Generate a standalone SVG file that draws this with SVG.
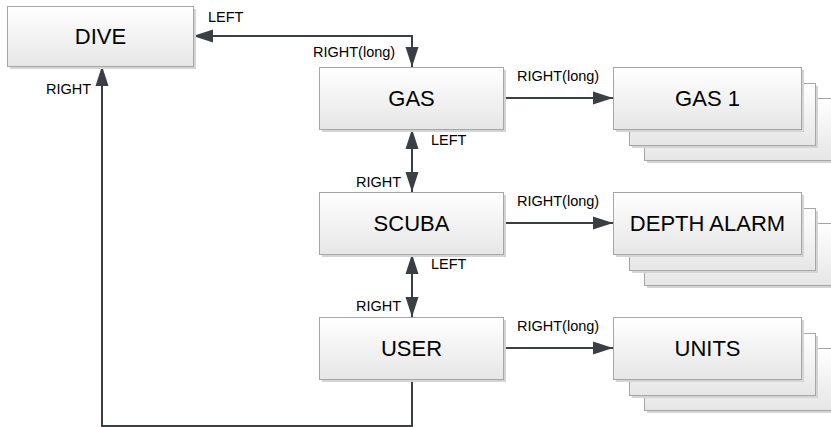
<svg xmlns="http://www.w3.org/2000/svg" width="831" height="427" viewBox="0 0 831 427">
<style>
.box{fill:url(#g);stroke:#a6a6a6;stroke-width:1}
.sh{fill:#d4d4d4}
.bt{font-family:"Liberation Sans",Arial,sans-serif;font-size:22px;fill:#000;text-anchor:middle}
.lb{font-family:"Liberation Sans",Arial,sans-serif;font-size:14.5px;fill:#000}
.c{fill:none;stroke:#3b3e42;stroke-width:2}
</style>
<defs>
<linearGradient id="g" x1="0" y1="0" x2="0" y2="1">
<stop offset="0" stop-color="#ffffff"/>
<stop offset="1" stop-color="#e6e6e6"/>
</linearGradient>
<marker id="a" markerUnits="userSpaceOnUse" markerWidth="21" markerHeight="14" refX="20" refY="7" orient="auto-start-reverse" viewBox="0 0 21 14">
<path d="M0,0.5 L20,7 L0,13.5 z" fill="#3b3e42"/>
</marker>
</defs>
<rect width="831" height="427" fill="#fff"/>
<g id="connectors">
<path class="c" d="M193,36 H412 V67" marker-start="url(#a)" marker-end="url(#a)"/>
<path class="c" d="M412,129 V192" marker-start="url(#a)" marker-end="url(#a)"/>
<path class="c" d="M412,254 V317" marker-start="url(#a)" marker-end="url(#a)"/>
<path class="c" d="M503,98 H613" marker-end="url(#a)"/>
<path class="c" d="M503,223 H613" marker-end="url(#a)"/>
<path class="c" d="M503,348 H613" marker-end="url(#a)"/>
<path class="c" d="M412,379 V426 H102 V66" marker-end="url(#a)"/>
<text class="lb" x="208" y="22">LEFT</text>
<text class="lb" x="313" y="57">RIGHT(long)</text>
<text class="lb" x="46" y="94">RIGHT</text>
<text class="lb" x="431" y="145">LEFT</text>
<text class="lb" x="356" y="187">RIGHT</text>
<text class="lb" x="431" y="269">LEFT</text>
<text class="lb" x="356" y="311">RIGHT</text>
<text class="lb" x="517" y="81">RIGHT(long)</text>
<text class="lb" x="517" y="206">RIGHT(long)</text>
<text class="lb" x="517" y="331">RIGHT(long)</text>
</g>
<g id="dive">
<rect class="sh" x="10" y="9" width="186" height="60"/>
<rect class="box" x="7.5" y="6.5" width="186" height="60"/>
<text class="bt" x="100.5" y="44">DIVE</text>
</g>
<g id="gas">
<rect class="sh" x="322" y="70" width="184" height="62"/>
<rect class="box" x="319.5" y="67.5" width="184" height="62"/>
<text class="bt" x="411.5" y="106">GAS</text>
</g>
<g id="scuba">
<rect class="sh" x="322" y="195" width="184" height="62"/>
<rect class="box" x="319.5" y="192.5" width="184" height="62"/>
<text class="bt" x="411.5" y="231">SCUBA</text>
</g>
<g id="user">
<rect class="sh" x="322" y="320" width="184" height="62"/>
<rect class="box" x="319.5" y="317.5" width="184" height="62"/>
<text class="bt" x="411.5" y="356">USER</text>
</g>
<g id="gas1">
<rect class="sh" x="647" y="101" width="200" height="62"/>
<rect class="box" x="644.5" y="98.5" width="200" height="62"/>
<rect class="sh" x="632" y="86" width="186" height="62"/>
<rect class="box" x="629.5" y="83.5" width="186" height="62"/>
<rect class="sh" x="616" y="70" width="188" height="62"/>
<rect class="box" x="613.5" y="67.5" width="188" height="62"/>
<text class="bt" x="707.5" y="106">GAS 1</text>
</g>
<g id="depth-alarm">
<rect class="sh" x="647" y="226" width="200" height="62"/>
<rect class="box" x="644.5" y="223.5" width="200" height="62"/>
<rect class="sh" x="632" y="211" width="186" height="62"/>
<rect class="box" x="629.5" y="208.5" width="186" height="62"/>
<rect class="sh" x="616" y="195" width="188" height="62"/>
<rect class="box" x="613.5" y="192.5" width="188" height="62"/>
<text class="bt" x="707.5" y="231">DEPTH ALARM</text>
</g>
<g id="units">
<rect class="sh" x="647" y="351" width="200" height="62"/>
<rect class="box" x="644.5" y="348.5" width="200" height="62"/>
<rect class="sh" x="632" y="336" width="186" height="62"/>
<rect class="box" x="629.5" y="333.5" width="186" height="62"/>
<rect class="sh" x="616" y="320" width="188" height="62"/>
<rect class="box" x="613.5" y="317.5" width="188" height="62"/>
<text class="bt" x="707.5" y="356">UNITS</text>
</g>
</svg>
